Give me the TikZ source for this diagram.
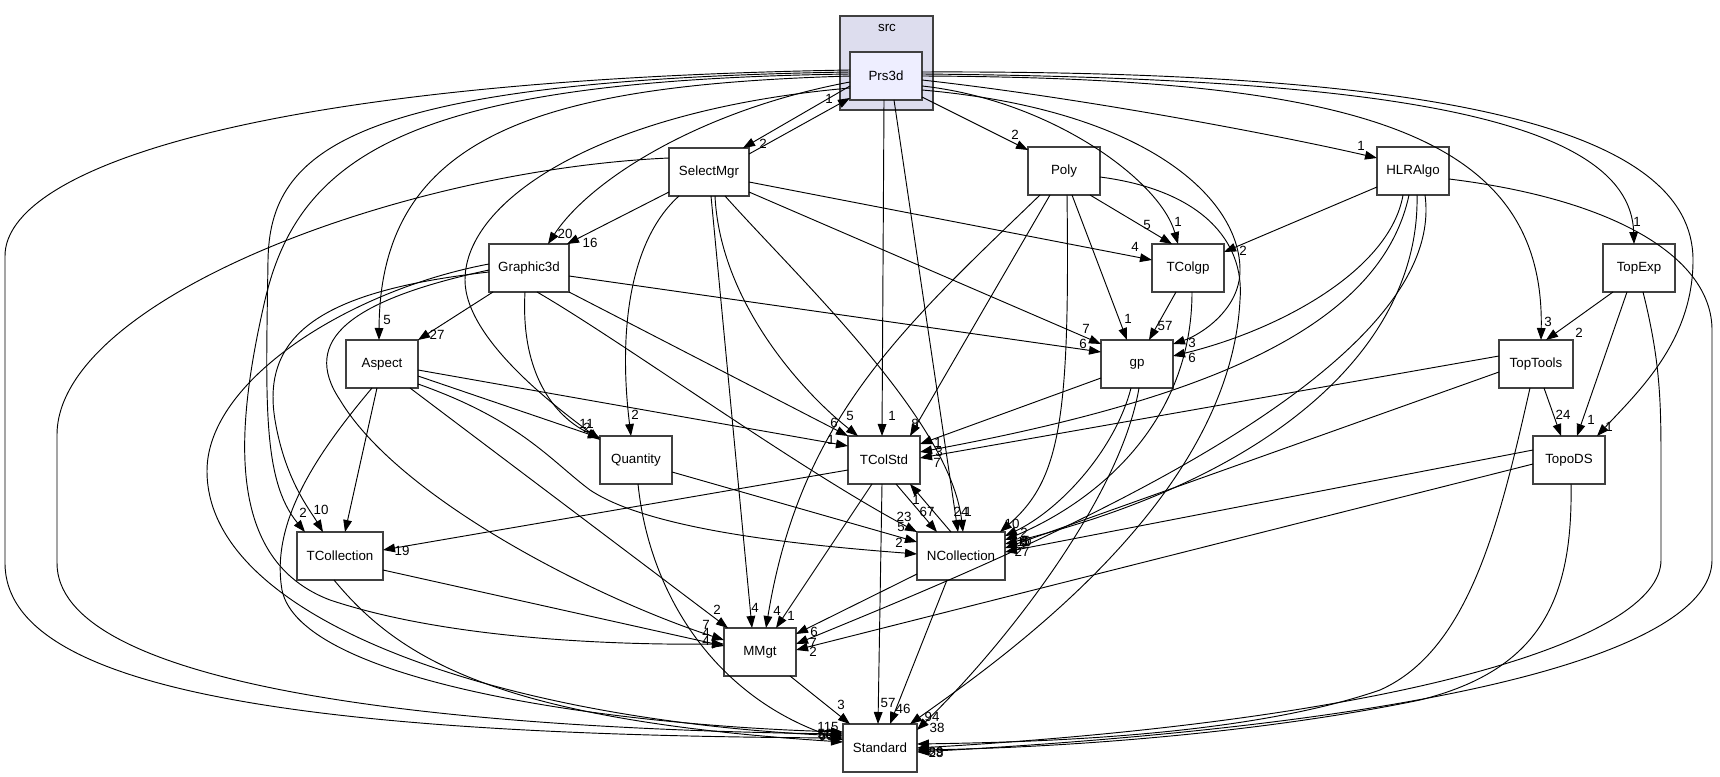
\documentclass[tikz,border=0pt]{standalone}
\usepackage{fontspec}
\setmainfont{Liberation Sans}
\usetikzlibrary{arrows.meta,calc}
\definecolor{boxline}{HTML}{404040}
\definecolor{clusterfill}{HTML}{DDDDEE}
\definecolor{curfill}{HTML}{EEEEFF}
\tikzset{
  dir/.style={draw=boxline, line width=0.9pt, fill=white, minimum width=54pt,
    minimum height=36pt, inner sep=0pt, font=\fontsize{10}{12}\selectfont},
  dep/.style={line width=0.7pt, -{Triangle[length=9pt,width=6.5pt]}},
  cnt/.style={inner sep=0pt, font=\fontsize{10}{12}\selectfont},
}
\begin{document}
\begin{tikzpicture}[x=0.75pt,y=-0.75pt]
  \useasboundingbox (0,0) rectangle (1720,777);

  % cluster src
  \draw[draw=boxline, fill=clusterfill, line width=0.9pt] (840,16) rectangle (933,110);
  \node[cnt] (srclbl) at (887,28) {src};
  \node[dir, fill=curfill] (Prs3d) at (886,76) {Prs3d};

  % directories
  \node[dir, minimum width=60pt] (SelectMgr) at (709,172) {SelectMgr};
  \node[dir] (Poly) at (1064,171) {Poly};
  \node[dir] (HLRAlgo) at (1413,171) {HLRAlgo};
  \node[dir, minimum width=60pt] (Graphic3d) at (529,268) {Graphic3d};
  \node[dir] (TColgp) at (1188,268) {TColgp};
  \node[dir] (TopExp) at (1639,268) {TopExp};
  \node[dir] (Aspect) at (382,364) {Aspect};
  \node[dir] (gp) at (1137,364) {gp};
  \node[dir, minimum width=55.5pt] (TopTools) at (1536,364) {TopTools};
  \node[dir] (Quantity) at (636,460) {Quantity};
  \node[dir] (TColStd) at (884,460) {TColStd};
  \node[dir] (TopoDS) at (1569,460) {TopoDS};
  \node[dir, minimum width=64.5pt] (TCollection) at (340,556) {TCollection};
  \node[dir, minimum width=66pt] (NCollection) at (961,556) {NCollection};
  \node[dir] (MMgt) at (760,652) {MMgt};
  \node[dir, minimum width=55.5pt] (Standard) at (880,748) {Standard};

  % Prs3d
  \draw[dep] ($(Prs3d)+(-36,10)$) -- ($(SelectMgr)+(34,-24)$);
  \draw[dep] ($(SelectMgr)+(40,-18)$) -- ($(Prs3d)+(-36,22)$);
  \draw[dep] ($(Prs3d)+(36,21)$) -- ($(Poly)+(-36,-21)$);
  \draw[dep] ($(Prs3d)+(36,4)$) .. controls (1100,100) and (1300,140) .. ($(HLRAlgo)+(-36,-13)$);
  \draw[dep] ($(Prs3d)+(36,-2)$) .. controls (1350,78) and (1630,110) .. ($(TopExp)+(-5,-24)$);
  \draw[dep] ($(Prs3d)+(36,0)$) .. controls (1350,78) and (1545,130) .. ($(TopTools)+(5,-24)$);
  \draw[dep] ($(Prs3d)+(36,-4)$) .. controls (1450,70) and (1693,130) .. (1693,260)
    .. controls (1693,340) and (1640,390) .. ($(TopoDS)+(28,-24)$);
  \draw[dep] ($(Prs3d)+(36,10)$) .. controls (1050,100) and (1160,180) .. ($(TColgp)+(-10,-24)$);
  \draw[dep] ($(Prs3d)+(36,14)$) .. controls (1150,110) and (1240,200) .. (1240,270)
    .. controls (1240,310) and (1200,335) .. ($(gp)+(36,-20)$);
  \draw[dep] ($(Prs3d)+(-2,24)$) -- ($(TColStd)+(-2,-24)$);
  \draw[dep] ($(Prs3d)+(8,24)$) -- ($(NCollection)+(-3,-24)$);
  \draw[dep] ($(Prs3d)+(-36,6)$) .. controls (700,110) and (590,180) .. ($(Graphic3d)+(19,-24)$);
  \draw[dep] ($(Prs3d)+(-36,0)$) .. controls (550,85) and (380,130) .. ($(Aspect)+(-3,-24)$);
  \draw[dep] ($(Prs3d)+(-36,12)$) .. controls (600,110) and (465,200) .. (465,280)
    .. controls (465,340) and (560,410) .. ($(Quantity)+(-36,-20)$);
  \draw[dep] ($(Prs3d)+(-36,-4)$) .. controls (350,80) and (270,150) .. (268,260)
    .. controls (266,400) and (262,480) .. ($(TCollection)+(-35,-24)$);
  \draw[dep] ($(Prs3d)+(-36,-2)$) .. controls (420,80) and (300,150) .. (265,300)
    .. controls (235,430) and (225,560) .. (330,600) .. controls (450,640) and (620,645) .. ($(MMgt)+(-36,-8)$);
  \draw[dep] ($(Prs3d)+(-36,-6)$) .. controls (250,80) and (5,170) .. (5,256) -- (5,563)
    .. controls (5,690) and (300,735) .. ($(Standard)+(-37,-10)$);

  % SelectMgr
  \draw[dep] ($(SelectMgr)+(-40,20)$) -- ($(Graphic3d)+(38,-24)$);
  \draw[dep] ($(SelectMgr)+(40,10)$) -- ($(TColgp)+(-36,-8)$);
  \draw[dep] ($(SelectMgr)+(40,20)$) -- ($(gp)+(-36,-20)$);
  \draw[dep] ($(SelectMgr)+(-30,24)$) .. controls (630,240) and (618,330) .. ($(Quantity)+(-5,-24)$);
  \draw[dep] ($(SelectMgr)+(2,24)$) -- ($(MMgt)+(-8,-24)$);
  \draw[dep] ($(SelectMgr)+(6,24)$) .. controls (720,300) and (800,390) .. ($(TColStd)+(-26,-24)$);
  \draw[dep] ($(SelectMgr)+(16,24)$) .. controls (800,280) and (950,420) .. ($(NCollection)+(2,-24)$);
  \draw[dep] ($(SelectMgr)+(-40,-14)$) .. controls (400,170) and (57,300) .. (57,435) -- (57,563)
    .. controls (57,680) and (400,728) .. ($(Standard)+(-37,-14)$);

  % Poly
  \draw[dep] ($(Poly)+(26,24)$) -- ($(TColgp)+(-16,-24)$);
  \draw[dep] ($(Poly)+(8,24)$) -- ($(gp)+(-10,-24)$);
  \draw[dep] ($(Poly)+(-14,24)$) -- ($(TColStd)+(26,-24)$);
  \draw[dep] ($(Poly)+(3,24)$) .. controls (1070,420) and (1060,480) .. ($(NCollection)+(39,-24)$);
  \draw[dep] ($(Poly)+(-24,24)$) .. controls (900,330) and (800,420) .. ($(MMgt)+(6,-24)$);
  \draw[dep] ($(Poly)+(36,6)$) .. controls (1200,190) and (1245,240) .. (1240,300)
    .. controls (1230,500) and (1000,660) .. ($(Standard)+(30,-24)$);

  % HLRAlgo
  \draw[dep] ($(HLRAlgo)+(-36,16)$) -- ($(TColgp)+(36,-16)$);
  \draw[dep] ($(HLRAlgo)+(-10,24)$) .. controls (1390,270) and (1280,330) .. ($(gp)+(36,-8)$);
  \draw[dep] ($(HLRAlgo)+(-4,24)$) .. controls (1380,330) and (1200,400) .. ($(TColStd)+(36,-8)$);
  \draw[dep] ($(HLRAlgo)+(4,24)$) .. controls (1420,330) and (1300,470) .. ($(NCollection)+(44,-12)$);
  \draw[dep] ($(HLRAlgo)+(12,24)$) .. controls (1450,380) and (1000,560) .. ($(MMgt)+(36,-8)$);
  \draw[dep] ($(HLRAlgo)+(36,8)$) .. controls (1620,200) and (1712,260) .. (1712,330) -- (1712,560)
    .. controls (1712,640) and (1500,720) .. ($(Standard)+(37,4)$);

  % TopExp
  \draw[dep] ($(TopExp)+(-26,24)$) -- ($(TopTools)+(10,-24)$);
  \draw[dep] ($(TopExp)+(-12,24)$) -- ($(TopoDS)+(8,-24)$);
  \draw[dep] ($(TopExp)+(4,24)$) .. controls (1660,360) and (1661,400) .. (1661,460) -- (1661,560)
    .. controls (1661,640) and (1400,720) .. ($(Standard)+(37,0)$);

  % TopTools
  \draw[dep] ($(TopTools)+(8,24)$) -- ($(TopoDS)+(-8,-24)$);
  \draw[dep] ($(TopTools)+(-37,-8)$) -- ($(TColStd)+(36,-2)$);
  \draw[dep] ($(TopTools)+(-37,8)$) -- ($(NCollection)+(44,-8)$);
  \draw[dep] ($(TopTools)+(-6,24)$) .. controls (1500,520) and (1470,650) .. (1380,690)
    .. controls (1250,735) and (1050,742) .. ($(Standard)+(37,-4)$);

  % TopoDS
  \draw[dep] ($(TopoDS)+(-36,-10)$) -- ($(NCollection)+(44,-4)$);
  \draw[dep] ($(TopoDS)+(-36,4)$) -- ($(MMgt)+(36,-2)$);
  \draw[dep] ($(TopoDS)+(2,24)$) .. controls (1573,600) and (1540,670) .. (1420,700)
    .. controls (1250,735) and (1050,748) .. ($(Standard)+(37,2)$);

  % Graphic3d
  \draw[dep] ($(Graphic3d)+(-36,24)$) -- ($(Aspect)+(36,-24)$);
  \draw[dep] ($(Graphic3d)+(40,8)$) -- ($(gp)+(-36,-12)$);
  \draw[dep] ($(Graphic3d)+(40,24)$) -- ($(TColStd)+(-36,-24)$);
  \draw[dep] ($(Graphic3d)+(8,24)$) .. controls (620,340) and (800,470) .. ($(NCollection)+(-44,-24)$);
  \draw[dep] ($(Graphic3d)+(-4,24)$) .. controls (520,380) and (560,420) .. ($(Quantity)+(-36,-22)$);
  \draw[dep] ($(Graphic3d)+(-40,4)$) .. controls (330,290) and (260,330) .. (275,420)
    .. controls (285,480) and (310,510) .. ($(TCollection)+(-17,-24)$);
  \draw[dep] ($(Graphic3d)+(-40,2)$) .. controls (350,300) and (300,340) .. (340,400)
    .. controls (400,500) and (600,600) .. ($(MMgt)+(-36,-12)$);
  \draw[dep] ($(Graphic3d)+(-40,-4)$) .. controls (350,290) and (207,380) .. (207,471)
    .. controls (207,620) and (500,720) .. ($(Standard)+(-37,-12)$);

  % Aspect
  \draw[dep] ($(Aspect)+(-5,24)$) -- ($(TCollection)+(5,-24)$);
  \draw[dep] ($(Aspect)+(36,12)$) -- ($(Quantity)+(-36,-22)$);
  \draw[dep] ($(Aspect)+(36,6)$) -- ($(TColStd)+(-36,-14)$);
  \draw[dep] ($(Aspect)+(36,20)$) .. controls (520,420) and (550,460) .. (590,490)
    .. controls (650,530) and (800,545) .. ($(NCollection)+(-44,-2)$);
  \draw[dep] ($(Aspect)+(28,24)$) -- ($(MMgt)+(-32,-24)$);
  \draw[dep] ($(Aspect)+(-10,24)$) .. controls (320,450) and (270,520) .. (282,590)
    .. controls (300,680) and (600,725) .. ($(Standard)+(-37,-16)$);

  % Quantity, TCollection
  \draw[dep] ($(Quantity)+(36,12)$) -- ($(NCollection)+(-44,-14)$);
  \draw[dep] ($(Quantity)+(2,24)$) .. controls (650,600) and (720,700) .. ($(Standard)+(-37,-8)$);
  \draw[dep] ($(TCollection)+(43,14)$) -- ($(MMgt)+(-36,-6)$);
  \draw[dep] ($(TCollection)+(-6,24)$) .. controls (400,660) and (500,720) .. ($(Standard)+(-37,-6)$);

  % TColStd, NCollection
  \draw[dep] ($(TColStd)+(-36,10)$) -- ($(TCollection)+(43,-6)$);
  \draw[dep] ($(TColStd)+(12,24)$) -- ($(NCollection)+(-24,-24)$);
  \draw[dep] ($(NCollection)+(-10,-24)$) -- ($(TColStd)+(26,24)$);
  \draw[dep] ($(TColStd)+(-12,24)$) -- ($(MMgt)+(16,-24)$);
  \draw[dep] ($(TColStd)+(-2,24)$) -- ($(Standard)+(-2,-24)$);
  \draw[dep] ($(NCollection)+(-44,18)$) -- ($(MMgt)+(36,-18)$);
  \draw[dep] ($(NCollection)+(-14,24)$) -- ($(Standard)+(10,-24)$);

  % gp, TColgp, MMgt
  \draw[dep] ($(gp)+(-36,14)$) -- ($(TColStd)+(36,-16)$);
  \draw[dep] ($(gp)+(-6,24)$) .. controls (1115,450) and (1060,510) .. ($(NCollection)+(44,-20)$);
  \draw[dep] ($(gp)+(2,24)$) .. controls (1120,500) and (1000,650) .. ($(Standard)+(37,-18)$);
  \draw[dep] ($(TColgp)+(-12,24)$) -- ($(gp)+(12,-24)$);
  \draw[dep] ($(TColgp)+(4,24)$) .. controls (1192,420) and (1100,500) .. ($(NCollection)+(44,-16)$);
  \draw[dep] ($(MMgt)+(30,24)$) -- ($(Standard)+(-30,-24)$);

  % counts
  \foreach \t/\x/\y [count=\i] in {
    2/763/144, 1/829/99, 2/1015/135, 1/1361/146, 1/1637/222, 3/1548/322,
    1/1609/427, 1/1178/222, 3/1192/343, 1/892/416, 24/961/512, 1/968/512,
    20/565/234, 5/387/320, 1/583/424, 2/303/513, 4/706/641, 115/828/727,
    16/590/243, 4/1135/247, 7/1086/329, 2/635/415, 4/755/608, 5/850/416,
    66/826/736, 5/1147/225, 1/1128/319, 8/915/424, 10/1012/524, 4/777/611,
    94/932/717, 2/1243/251, 6/1192/358, 3/939/452, 5/1026/541, 7/813/643,
    89/936/752, 2/1579/333, 1/1591/420, 24/1563/415, 7/937/463, 10/1024/542,
    27/1022/552, 2/813/652, 28/936/753, 6/1083/344, 6/834/423, 23/904/517,
    7/706/625, 10/321/510, 50/825/734, 27/437/335, 1/590/424, 1/831/440,
    2/899/543, 2/717/610, 56/826/735, 2/587/428, 5/901/527, 6/1024/541,
    4/706/633, 19/402/551, 6/814/632, 1/791/616, 67/927/512, 1/916/500,
    57/888/703, 1/938/443, 2/1024/533, 38/937/728, 6/1024/542, 46/903/709,
    57/1165/326, 3/841/705}
    \node[cnt] (c\i) at (\x,\y) {\t};
\end{tikzpicture}
\end{document}
